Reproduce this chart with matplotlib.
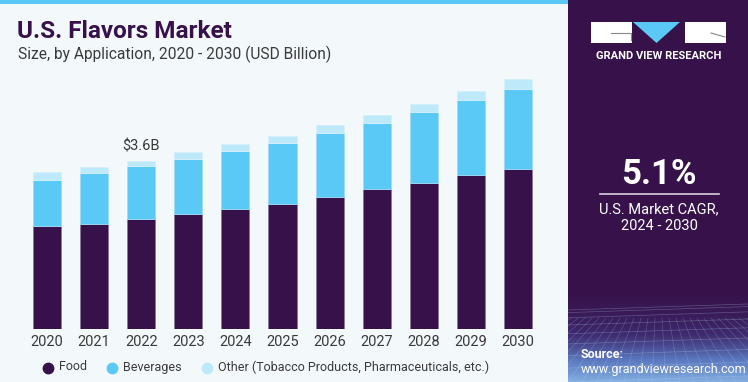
import matplotlib.pyplot as plt
import numpy as np
from matplotlib import font_manager
from matplotlib.patches import Rectangle, Polygon
from matplotlib.lines import Line2D
from matplotlib.colors import LinearSegmentedColormap

years = ['2020', '2021', '2022', '2023', '2024', '2025', '2026', '2027', '2028', '2029', '2030']
food = [2.20, 2.25, 2.36, 2.46, 2.57, 2.68, 2.82, 2.99, 3.12, 3.29, 3.42]
beverages = [0.99, 1.09, 1.11, 1.17, 1.22, 1.29, 1.37, 1.41, 1.50, 1.59, 1.70]
other = [0.16, 0.12, 0.12, 0.15, 0.16, 0.15, 0.16, 0.17, 0.19, 0.19, 0.21]
series_names = ['Food', 'Beverages', 'Other (Tobacco Products, Pharmaceuticals, etc.)']
label_year = '2022'
label_text = '$3.6B'
cagr = '5.1%'

PURPLE = '#37124a'
BLUE = '#5bc9f5'
LIGHT = '#bde9fa'
TXT = '#3a3a3a'
W, H = 748, 382

plt.rcParams['font.family'] = ['Roboto', 'DejaVu Sans']
installed = {f.name for f in font_manager.fontManager.ttflist}
if 'Liberation Sans Narrow' in installed:
    narrow, leg_size = ['Liberation Sans Narrow', 'DejaVu Sans'], 10.5
else:
    narrow, leg_size = ['Roboto', 'DejaVu Sans'], 9

fig = plt.figure(figsize=(W / 100, H / 100), dpi=100)
fig.patch.set_facecolor('#f3f8fb')

# top stripe
fig.add_artist(Rectangle((0, 1 - 4 / H), 568 / W, 4 / H, transform=fig.transFigure,
                         color=BLUE, lw=0))

# titles
fig.text(17 / W, 1 - 31 / H, 'U.S. Flavors Market', fontsize=17.5, fontweight='bold',
         color=PURPLE, va='center', ha='left')
fig.text(18 / W, 1 - 54 / H, 'Size, by Application, 2020 - 2030 (USD Billion)', fontsize=11.2,
         color=TXT, va='center', ha='left')

# main chart
px_per_b = 46.94
ymax = 5.5
ax = fig.add_axes([11.7 / W, (H - 329.3) / H, 541.6 / W, ymax * px_per_b / H])
ax.set_facecolor('none')
x = np.arange(len(years))
bw = 0.595
f = np.array(food)
b = np.array(beverages)
o = np.array(other)
ax.bar(x, f, bw, color=PURPLE, edgecolor='#8a7898', linewidth=0.6)
ax.bar(x, b, bw, bottom=f, color=BLUE, edgecolor='#9fdcf7', linewidth=0.6)
ax.bar(x, o, bw, bottom=f + b, color=LIGHT, edgecolor='#d6f1fc', linewidth=0.6)
ax.set_xlim(-0.75, 10.75)
ax.set_ylim(0, ymax)
ax.set_xticks(x)
ax.set_xticklabels(years, fontsize=10.5, color=TXT)
ax.tick_params(axis='x', length=0, pad=4)
ax.set_yticks([])
for s in ax.spines.values():
    s.set_visible(False)

i = years.index(label_year)
tot = f[i] + b[i] + o[i]
ax.text(x[i], tot + 0.3, label_text.replace('$', r'\$'), ha='center', va='center',
        fontsize=10.5, color=TXT)

# legend
legend_x = [48, 112, 207]
for name, col, lx in zip(series_names, [PURPLE, BLUE, LIGHT], legend_x):
    fig.add_artist(Line2D([lx / W], [1 - 368 / H], marker='o', markersize=7.5, color=col,
                          transform=fig.transFigure, lw=0))
    fig.text((lx + 11) / W, 1 - 367 / H, name, fontsize=leg_size, color=TXT, va='center',
             ha='left', family=narrow)

# right panel
pa = fig.add_axes([568 / W, 0, 180 / W, 1])
pa.set_xlim(0, 180)
pa.set_ylim(H, 0)
pa.axis('off')
pa.add_patch(Rectangle((0, 0), 180, H, color=PURPLE, lw=0))

# bottom gradient with mesh
grad = np.linspace(0, 1, 100)[:, None]
cmap = LinearSegmentedColormap.from_list('g', [PURPLE, '#3e2a6e', '#5b78bf', '#82aee0'])
pa.imshow(grad ** 1.5, extent=(0, 180, H, 290), cmap=cmap, aspect='auto', zorder=1)
for k in range(9):
    yy = 310 + (k / 8) ** 1.6 * 72
    pa.plot([0, 180], [yy, yy - 6], color='#b8d4f5', lw=0.5, alpha=0.3, zorder=2)
for k in range(-6, 20):
    pa.plot([k * 14, 90 + (k * 14 - 90) * 0.5], [H, 318], color='#b8d4f5', lw=0.5,
            alpha=0.25, zorder=2)

# logo
pa.add_patch(Rectangle((23, 22), 41, 21, color='white', lw=0, zorder=3))
pa.plot([43, 63, 63], [33, 33, 40], color='#888888', lw=0.8, zorder=4)
pa.add_patch(Polygon([(65, 22), (112, 22), (88.5, 43)], closed=True, color=BLUE, lw=0, zorder=3))
pa.add_patch(Rectangle((117, 22), 41, 21, color='white', lw=0, zorder=3))
pa.plot([143, 157], [33, 37], color='#888888', lw=0.8, zorder=4)
pa.text(91, 56, 'GRAND VIEW RESEARCH', color='white', fontsize=8, fontweight='bold',
        ha='center', va='center', zorder=4)

pa.text(91, 174, cagr, color='white', fontsize=25, fontweight='bold', ha='center',
        va='center', zorder=4)
pa.plot([32, 151], [194, 194], color='#d9d0e0', lw=1.2, zorder=4)
pa.text(91, 209, 'U.S. Market CAGR,', color='white', fontsize=10.5, ha='center', va='center', zorder=4)
pa.text(91, 226, '2024 - 2030', color='white', fontsize=10.5, ha='center', va='center', zorder=4)

pa.text(13, 355, 'Source:', color='white', fontsize=9, fontweight='bold', ha='left',
        va='center', zorder=4)
pa.text(13, 369, 'www.grandviewresearch.com', color='white', fontsize=9, ha='left',
        va='center', zorder=4)

fig.savefig('out.png', dpi=100, facecolor=fig.get_facecolor())
